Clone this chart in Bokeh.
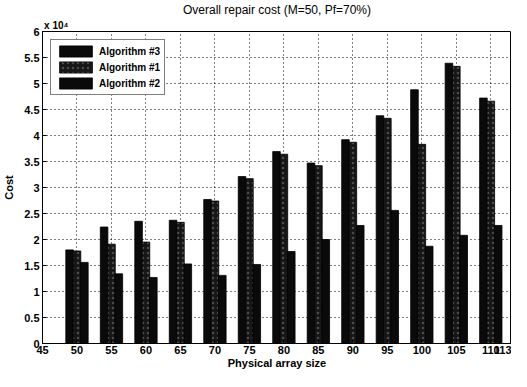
import numpy as np
from bokeh.plotting import figure
from bokeh.models import FixedTicker, Legend, LegendItem, ColumnDataSource, Range1d, Title, LinearAxis
from bokeh.embed import file_html
from bokeh.resources import INLINE

# ---- data (cost values) ----
sizes = [50, 55, 60, 65, 70, 75, 80, 85, 90, 95, 100, 105, 110]
alg3_cost = [18000, 22400, 23500, 23700, 27700, 32100, 36900, 34700, 39200, 43800, 48800, 53900, 47200]
alg1_cost = [17800, 19100, 19500, 23300, 27400, 31700, 36400, 34200, 38700, 43300, 38300, 53300, 46600]
alg2_cost = [15600, 13400, 12700, 15300, 13100, 15200, 17700, 20000, 22700, 25600, 18700, 20800, 22700]
x_ticks = [45, 50, 55, 60, 65, 70, 75, 80, 85, 90, 95, 100, 105, 110, 113]
y_ticks = [0, 0.5, 1, 1.5, 2, 2.5, 3, 3.5, 4, 4.5, 5, 5.5, 6]
series_names = ["Algorithm #3", "Algorithm #1", "Algorithm #2"]
title_text = "Overall repair cost (M=50, Pf=70%)"
exponent_text = "x 10\u2074"
exponent_anchor = 47

FONT = "Liberation Sans"
scale = 1e4
bar_w = 1.1
offs = [-1.07, 0.0, 1.07]

p = figure(width=511, height=371, x_range=Range1d(45, 113), y_range=Range1d(0, 6),
           output_backend="svg", toolbar_location=None,
           min_border_left=42, min_border_right=0, min_border_top=2, min_border_bottom=0)

# top axis that only carries the "x 10^4" multiplier text
top_ax = LinearAxis(ticker=FixedTicker(ticks=[exponent_anchor]), axis_line_color=None,
                    major_tick_line_color=None, minor_tick_line_color=None,
                    major_label_standoff=1, major_tick_in=0, major_tick_out=0,
                    minor_tick_in=0, minor_tick_out=0,
                    major_label_overrides={exponent_anchor: exponent_text},
                    major_label_text_font=FONT, major_label_text_font_size="10px",
                    major_label_text_font_style="bold", major_label_text_color="black")
p.add_layout(top_ax, "above")
p.add_layout(Title(text=title_text, align="center", text_font=FONT, text_font_size="12px",
                   text_font_style="normal", text_color="black", standoff=0), "above")

sx = np.array(sizes, dtype=float)
renderers = []
fills = ["#0a0a0a", "#161616", "#0a0a0a"]
for vals, off, col, nm in zip([alg3_cost, alg1_cost, alg2_cost], offs, fills, series_names):
    src = ColumnDataSource(dict(x=sx + off, top=np.array(vals) / scale))
    kw = {}
    if nm == "Algorithm #1":
        kw = dict(hatch_pattern=".", hatch_color="#4c4c4c", hatch_scale=5, hatch_weight=1)
    r = p.vbar(x="x", top="top", width=bar_w, bottom=0, source=src,
               fill_color=col, line_color="black", line_width=0.8, **kw)
    renderers.append(r)

xa = p.below[0]
ya = p.left[0]
for ax in (xa, ya):
    ax.major_label_text_font = FONT
    ax.major_label_text_font_size = "11px"
    ax.major_label_text_font_style = "bold"
    ax.major_label_text_color = "black"
    ax.major_tick_in = 4
    ax.major_tick_out = 0
    ax.minor_tick_in = 0
    ax.minor_tick_out = 0
    ax.axis_line_color = "black"
    ax.major_tick_line_color = "black"
    ax.axis_label_text_font = FONT
    ax.axis_label_text_font_size = "11px"
    ax.axis_label_text_font_style = "bold"
    ax.axis_label_text_color = "black"

xa.ticker = FixedTicker(ticks=x_ticks)
ya.ticker = FixedTicker(ticks=y_ticks)
ya.major_label_overrides = {float(t): ("%g" % t) for t in y_ticks}
xa.major_label_overrides = {float(t): str(t) for t in x_ticks}
xa.axis_label = "Physical array size"
ya.axis_label = "Cost"
xa.major_label_standoff = 2
xa.axis_label_standoff = 0
ya.major_label_standoff = 3
ya.axis_label_standoff = 6

p.xgrid.ticker = FixedTicker(ticks=x_ticks)
p.ygrid.ticker = FixedTicker(ticks=y_ticks)
for g in (p.xgrid, p.ygrid):
    g.grid_line_color = "black"
    g.grid_line_dash = "1 3"
    g.grid_line_width = 1

p.outline_line_color = "black"
p.outline_line_width = 1
p.background_fill_color = "white"
p.border_fill_color = "white"

legend = Legend(items=[LegendItem(label=n, renderers=[r]) for n, r in zip(series_names, renderers)],
                location="top_left", margin=8)
legend.label_text_font = FONT
legend.label_text_font_size = "10px"
legend.label_text_font_style = "bold"
legend.label_text_color = "black"
legend.glyph_width = 41
legend.glyph_height = 14
legend.label_height = 14
legend.spacing = 2
legend.padding = 4
legend.label_standoff = 3
legend.border_line_color = "black"
legend.border_line_width = 1
legend.background_fill_alpha = 1
p.add_layout(legend)

open("out.html", "w").write(file_html(p, INLINE))
